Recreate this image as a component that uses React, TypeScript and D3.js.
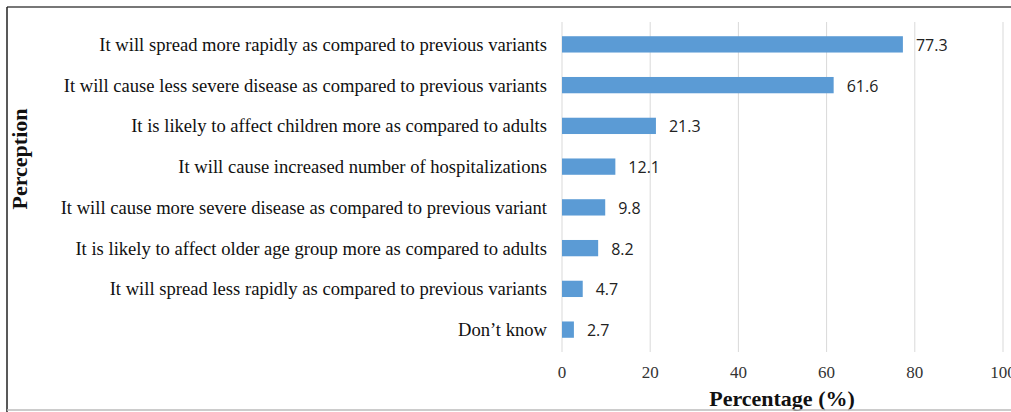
import React from "react";
import * as d3 from "d3";

const categories = [
  "It will spread more rapidly as compared to previous variants",
  "It will cause less severe disease as compared to previous variants",
  "It is likely to affect children more as compared to adults",
  "It will cause increased number of hospitalizations",
  "It will cause more severe disease as compared to previous variant",
  "It is likely to affect older age group more as compared to adults",
  "It will spread less rapidly as compared to previous variants",
  "Don\u2019t know",
];
const values = [77.3, 61.6, 21.3, 12.1, 9.8, 8.2, 4.7, 2.7];
const xTicks = [0, 20, 40, 60, 80, 100];

export default function App() {
  const W = 1011, H = 412;
  const x = d3.scaleLinear().domain([0, 100]).range([562, 1003]);
  const y = d3.scaleBand<string>().domain(categories).range([24, 350]).paddingInner(0.6).paddingOuter(0.3);
  const serif = "'Liberation Serif', 'Times New Roman', serif";
  const sans = "'Open Sans', 'DejaVu Sans', sans-serif";
  return (
    <svg width={W} height={H} style={{ position: "absolute", left: 0, top: 0, background: "#fff" }}>
      <rect x={0} y={0} width={W} height={H} fill="#fff" />
      {xTicks.map((t) => (
        <line key={"g" + t} x1={x(t)} x2={x(t)} y1={22} y2={352} stroke="#d9d9d9" strokeWidth={1} />
      ))}
      {categories.map((c, i) => (
        <g key={c}>
          <rect x={x(0)} y={y(c)!} width={x(values[i]) - x(0)} height={y.bandwidth()} fill="#5b9bd5" />
          <text x={547} y={y(c)! + y.bandwidth() / 2} dy="0.35em" textAnchor="end" fontFamily={serif} fontSize={18.6} fill="#111">
            {c}
          </text>
          <text x={x(values[i]) + 13} y={y(c)! + y.bandwidth() / 2 + 1} dy="0.35em" fontFamily={sans} fontSize={16} fill="#222">
            {values[i]}
          </text>
        </g>
      ))}
      {xTicks.map((t) => (
        <text key={"t" + t} x={x(t)} y={372} dy="0.35em" textAnchor="middle" fontFamily={serif} fontSize={17} fill="#333">
          {t}
        </text>
      ))}
      <text x={782} y={398} dy="0.35em" textAnchor="middle" fontFamily={serif} fontSize={22} fontWeight="bold" fill="#111">
        Percentage (%)
      </text>
      <text transform="translate(19,159) rotate(-90)" dy="0.35em" textAnchor="middle" fontFamily={serif} fontSize={22} fontWeight="bold" fill="#111">
        Perception
      </text>
      <line x1={7} x2={W} y1={7} y2={7} stroke="#777" strokeWidth={2} />
      <line x1={7} x2={7} y1={7} y2={H} stroke="#222" strokeWidth={1.5} />
      <line x1={7} x2={W} y1={410} y2={410} stroke="#bbb" strokeWidth={1.5} />
    </svg>
  );
}
